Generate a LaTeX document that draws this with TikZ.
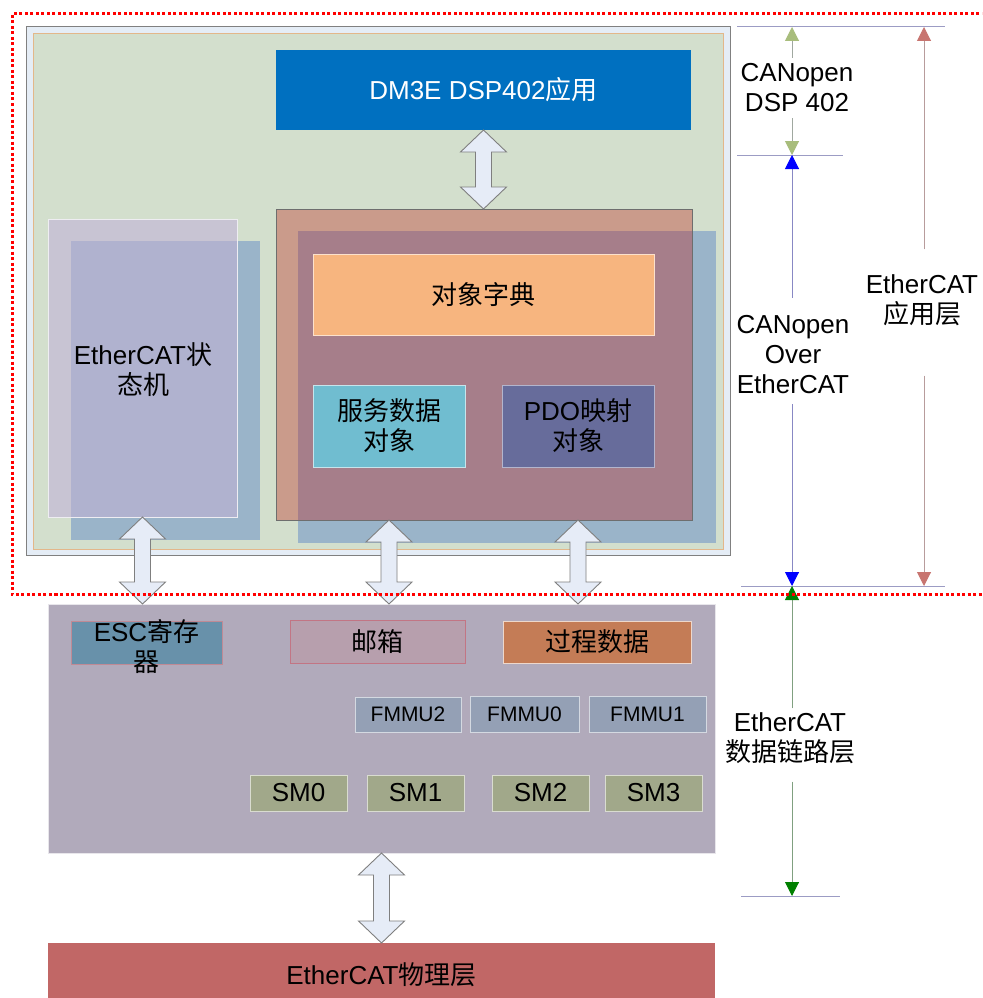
\documentclass[tikz,border=0pt]{standalone}
\usepackage{fontspec}
\setmainfont{Liberation Sans}
\newfontfamily\cjk{Noto Sans CJK SC}
\usetikzlibrary{arrows.meta,calc}

\definecolor{outerfill}{HTML}{E5EDF6}
\definecolor{outerline}{HTML}{808080}
\definecolor{greenfill}{HTML}{D3DFCD}
\definecolor{tanline}{HTML}{E3B78A}
\definecolor{dmblue}{HTML}{0070C0}
\definecolor{bluebk}{HTML}{9AB4C9}
\definecolor{brownfill}{HTML}{CA9B8B}
\definecolor{overlapA}{HTML}{A67E8A}
\definecolor{obline}{HTML}{6E6E6E}
\definecolor{dictfill}{HTML}{F7B57F}
\definecolor{sdofill}{HTML}{70BDD0}
\definecolor{pdofill}{HTML}{676C9B}
\definecolor{smfront}{HTML}{C8C4D3}
\definecolor{overlapB}{HTML}{B0B2CF}
\definecolor{dlfill}{HTML}{B1AABB}
\definecolor{escfill}{HTML}{6891AA}
\definecolor{escline}{HTML}{C08A95}
\definecolor{mailfill}{HTML}{B79FAD}
\definecolor{mailline}{HTML}{C27584}
\definecolor{procfill}{HTML}{C47C56}
\definecolor{fmmufill}{HTML}{94A0B5}
\definecolor{smfill}{HTML}{A1A88A}
\definecolor{physfill}{HTML}{C16766}
\definecolor{arrowfill}{HTML}{E6ECF7}
\definecolor{arrowline}{HTML}{7F7F7F}
\definecolor{dimcol}{HTML}{9C9CC4}
\definecolor{olivehead}{HTML}{A8BD7C}
\definecolor{oliveline}{HTML}{A0A8A0}
\definecolor{bluehead}{HTML}{0000FF}
\definecolor{blueline}{HTML}{8888C4}
\definecolor{brownhead}{HTML}{C87570}
\definecolor{brownline}{HTML}{B89C9C}
\definecolor{greenhead}{HTML}{008000}
\definecolor{greenline}{HTML}{80A080}
\definecolor{reddot}{HTML}{FF0000}

\newcommand{\mainfs}{\fontsize{26}{30}\selectfont}
\newcommand{\smallfs}{\fontsize{21}{25}\selectfont}

\newcommand{\bigdarrow}[2]{%
  \path[draw=arrowline, fill=arrowfill, line width=0.9pt, line join=miter]
    let \p1=(#1), \p2=(#2) in
    (\x1,\y1) -- (\x1+23pt,\y1-22pt) -- (\x1+8pt,\y1-22pt) -- (\x1+8pt,\y2+22pt)
    -- (\x1+23pt,\y2+22pt) -- (\x1,\y2) -- (\x1-23pt,\y2+22pt) -- (\x1-8pt,\y2+22pt)
    -- (\x1-8pt,\y1-22pt) -- (\x1-23pt,\y1-22pt) -- cycle;
}

\begin{document}
\begin{tikzpicture}[x=1pt,y=-1pt,
  blk/.style={rectangle, inner sep=0pt, outer sep=0pt, align=center, font=\mainfs},
  small/.style={blk, font=\smallfs},
  dimline/.style={draw=dimcol, line width=1pt},
  tipA/.style={-{Triangle[width=14pt,length=14pt,color=#1]}},
  oliveln/.style={draw=oliveline, line width=1pt, tipA=olivehead},
  blueln/.style={draw=blueline, line width=1pt, tipA=bluehead},
  brownln/.style={draw=brownline, line width=1pt, tipA=brownhead},
  greenln/.style={draw=greenline, line width=1pt, tipA=greenhead},
  reddotted/.style={draw=reddot, line width=3pt, dash pattern=on 3pt off 2.5pt}
]
\clip (0,0) rectangle (982,998);
\fill[white] (0,0) rectangle (982,998);

% application layer frame
\node[blk, draw=outerline, fill=outerfill, line width=1pt, minimum width=704pt, minimum height=528pt] (outer) at (378,291) {};
\node[blk, draw=tanline, fill=greenfill, line width=0.8pt, minimum width=690pt, minimum height=516pt] (app) at (378,291) {};

\node[blk, fill=dmblue, text=white, minimum width=415pt, minimum height=80pt] (dm) at (483.5,90) {DM3E DSP402{\cjk 应用}};

% object area
\fill[bluebk] (298,231) rectangle (716,543);
\node[blk, fill=brownfill, minimum width=416pt, minimum height=311pt] (ob) at (484,364.5) {};
\fill[overlapA] (298,231) rectangle (692,520);
\draw[obline, line width=1pt] (ob.north west) rectangle (ob.south east);

\node[blk, fill=dictfill, draw=white!60!dictfill, minimum width=341pt, minimum height=81pt] (dict) at (483.5,294.5) {{\cjk 对象字典}};
\node[blk, fill=sdofill, draw=white!60!sdofill, minimum width=152pt, minimum height=82pt] (sdo) at (389,426) {{\cjk 服务数据}\\{\cjk 对象}};
\node[blk, fill=pdofill, draw=white!50!pdofill, minimum width=152pt, minimum height=82pt] (pdo) at (578,426) {PDO{\cjk 映射}\\{\cjk 对象}};

% state machine
\fill[bluebk] (71,241) rectangle (260,540);
\node[blk, fill=smfront, draw=white!70!smfront, minimum width=189pt, minimum height=298pt] (fsm) at (142.5,368) {};
\fill[overlapB] (71,241) rectangle (237,517);
\node[blk] (fsmtext) at (143,370) {EtherCAT{\cjk 状}\\{\cjk 态机}};

% data link layer
\node[blk, fill=dlfill, draw=white!70!dlfill, minimum width=667pt, minimum height=249pt] (dl) at (381.5,728.5) {};
\node[blk, fill=escfill, draw=escline, line width=0.8pt, minimum width=151pt, minimum height=43pt] (esc) at (146.5,642.5) {};
\node[blk] (esctext) at ([yshift=-4pt]esc.center) {ESC{\cjk 寄存}\\{\cjk 器}};
\node[blk, fill=mailfill, draw=mailline, line width=0.8pt, minimum width=175pt, minimum height=43pt] (mail) at (377.5,641.5) {{\cjk 邮箱}};
\node[blk, fill=procfill, draw=white!70!procfill, minimum width=188pt, minimum height=42pt] (proc) at (597,642) {{\cjk 过程数据}};

\node[small, fill=fmmufill, draw=white!60!fmmufill, minimum width=106pt, minimum height=35pt] (fmmu2) at (408,714.5) {FMMU2};
\node[small, fill=fmmufill, draw=white!60!fmmufill, minimum width=109pt, minimum height=36pt] (fmmu0) at (524.5,714) {FMMU0};
\node[small, fill=fmmufill, draw=white!60!fmmufill, minimum width=117pt, minimum height=36pt] (fmmu1) at (647.5,714) {FMMU1};

\node[blk, fill=smfill, draw=white!60!smfill, minimum width=97pt, minimum height=36pt] (sm0) at (298.5,793) {SM0};
\node[blk, fill=smfill, draw=white!60!smfill, minimum width=97pt, minimum height=36pt] (sm1) at (415.5,793) {SM1};
\node[blk, fill=smfill, draw=white!60!smfill, minimum width=97pt, minimum height=36pt] (sm2) at (540.5,793) {SM2};
\node[blk, fill=smfill, draw=white!60!smfill, minimum width=97pt, minimum height=36pt] (sm3) at (653.5,793) {SM3};

% physical layer
\node[blk, fill=physfill, minimum width=667pt, minimum height=64pt] (phys) at (381.5,975) {EtherCAT{\cjk 物理层}};

% big double arrows
\coordinate (a2t) at ([xshift=-95pt]ob.south);
\coordinate (a3t) at ([xshift=94pt]ob.south);
\bigdarrow{dm.south}{ob.north}
\bigdarrow{fsm.south}{fsm.south |- dl.north}
\bigdarrow{a2t}{a2t |- dl.north}
\bigdarrow{a3t}{a3t |- dl.north}
\bigdarrow{dl.south}{phys.north}

% right-hand labels
\node[blk] (l402) at (797,88) {CANopen\\DSP 402};
\node[blk] (lcoe) at (793,355) {CANopen\\Over\\EtherCAT};
\node[blk] (ldl) at (790,738) {EtherCAT\\{\cjk 数据链路层}};
\node[blk] (lapp) at (922,300) {EtherCAT\\{\cjk 应用层}};

\coordinate (h1a) at (737,27);  \coordinate (h1b) at (945,27);
\coordinate (h2a) at (737,155); \coordinate (h2b) at (843,155);
\coordinate (h3a) at (741,586); \coordinate (h3b) at (945,586);
\coordinate (h4a) at (741,896); \coordinate (h4b) at (840,896);
\draw[dimline] (h1a) -- (h1b);
\draw[dimline] (h2a) -- (h2b);
\draw[dimline] (h3a) -- (h3b);
\draw[dimline] (h4a) -- (h4b);

\coordinate (v1t) at (792,27);
\coordinate (v1m) at (792,155);
\coordinate (v1b) at (792,586);
\coordinate (v1e) at (792,896);
\coordinate (v2t) at (924,27);
\coordinate (v2b) at (924,586);

\draw[oliveln, shorten <=6pt] (v1t |- l402.north) -- (v1t);
\draw[oliveln, shorten <=6pt] (v1t |- l402.south) -- (v1m);
\draw[blueln, shorten <=18pt] (v1t |- lcoe.north) -- (v1m);
\draw[blueln, shorten <=10pt] (v1t |- lcoe.south) -- (v1b);
\draw[greenln, shorten <=4pt] (v1t |- ldl.north) -- (v1b);
\draw[greenln, shorten <=18pt] (v1t |- ldl.south) -- (v1e);
\draw[brownln, shorten <=25pt] (v2t |- lapp.north) -- (v2t);
\draw[brownln, shorten <=50pt] (v2t |- lapp.south) -- (v2b);

% red dotted frame
\coordinate (rf1) at (990,14);
\coordinate (rf2) at (12,14);
\coordinate (rf3) at (12,594);
\coordinate (rf4) at (990,594);
\draw[reddotted] (rf1) -- (rf2) -- (rf3) -- (rf4);
\end{tikzpicture}
\end{document}
